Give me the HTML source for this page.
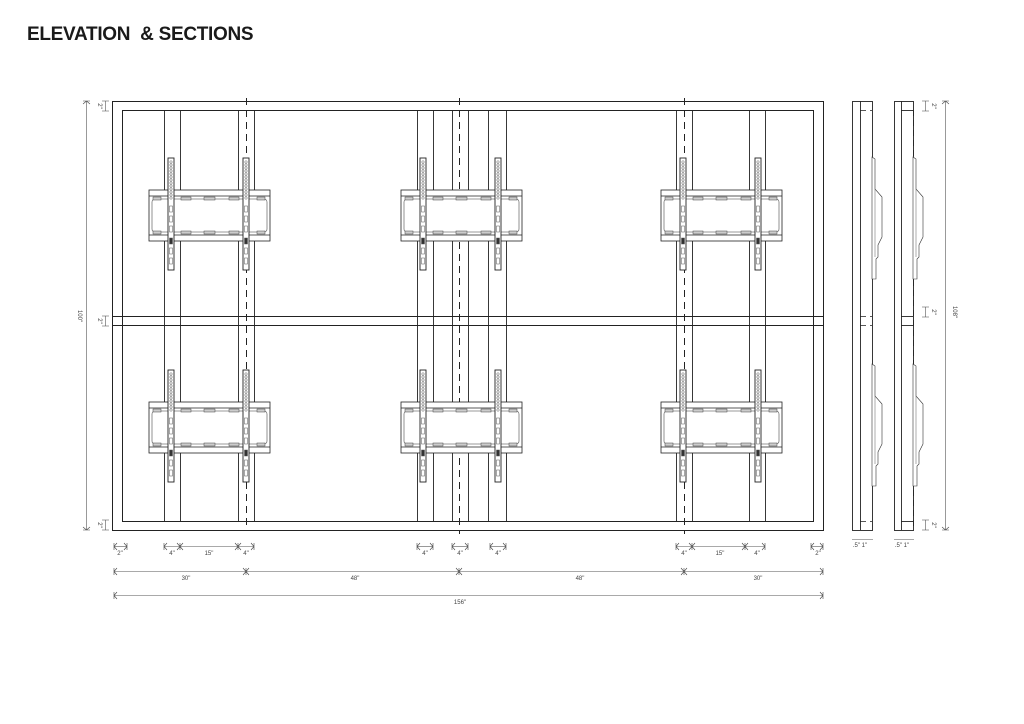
<!DOCTYPE html>
<html><head><meta charset="utf-8"><style>
html,body{margin:0;padding:0;background:#fff;}
body{width:1024px;height:724px;overflow:hidden;position:relative;font-family:"Liberation Sans",sans-serif;}
h1{position:absolute;left:27px;top:24px;margin:0;font-size:19px;font-weight:bold;letter-spacing:-0.3px;color:#1a1a1a;}
svg{position:absolute;left:0;top:0;}
text{font-family:"Liberation Sans",sans-serif;font-size:6px;fill:#444;}
</style></head><body>
<h1>ELEVATION&nbsp; &amp; SECTIONS</h1>
<svg width="1024" height="724" viewBox="0 0 1024 724">
<defs>
<g id="br" fill="#fff" stroke="#222" stroke-width="0.8">
  <rect x="0" y="0" width="121" height="51"/>
  <line x1="0" y1="6" x2="121" y2="6"/>
  <line x1="0" y1="45" x2="121" y2="45"/>
  <rect x="3" y="9" width="115" height="33" rx="3" stroke="#777"/>
  <g fill="#ccc" stroke="#444" stroke-width="0.5">
    <rect x="4" y="7" width="8" height="3"/><rect x="32" y="7" width="10" height="3"/><rect x="55" y="7" width="11" height="3"/><rect x="80" y="7" width="10" height="3"/><rect x="108" y="7" width="8" height="3"/>
    <rect x="4" y="41" width="8" height="3"/><rect x="32" y="41" width="10" height="3"/><rect x="55" y="41" width="11" height="3"/><rect x="80" y="41" width="10" height="3"/><rect x="108" y="41" width="8" height="3"/>
  </g>
  <g id="rail">
    <rect x="19" y="-32" width="6" height="112" stroke-width="0.9"/>
    <g fill="none" stroke="#555" stroke-width="0.5">
      <circle cx="22" cy="-28" r="1.2"/><circle cx="22" cy="-25" r="1.2"/><circle cx="22" cy="-22" r="1.2"/><circle cx="22" cy="-19" r="1.2"/><circle cx="22" cy="-16" r="1.2"/><circle cx="22" cy="-13" r="1.2"/><circle cx="22" cy="-10" r="1.2"/><circle cx="22" cy="-7" r="1.2"/><circle cx="22" cy="-4" r="1.2"/><circle cx="22" cy="-1" r="1.2"/><circle cx="22" cy="2" r="1.2"/><circle cx="22" cy="5" r="1.2"/><circle cx="22" cy="8" r="1.2"/>
      <rect x="20.5" y="16" width="3" height="6"/><rect x="20.5" y="26" width="3" height="6"/><rect x="20.5" y="36" width="3" height="6"/>
      <rect x="20.5" y="48" width="3" height="6" fill="#333"/><rect x="20.5" y="58" width="3" height="6"/><rect x="20.5" y="68" width="3" height="6"/>
    </g>
  </g>
  <use href="#rail" x="75"/>
</g>
<g id="sec" fill="none" stroke="#333" stroke-width="0.6">
  <path d="M0,0 L3,2 L3,32 L10,40 L10,80 L6,88 L6,100 L4,102 L4,122 L0,122 Z" fill="#fff"/>
  <path d="M3,32 L3,100" stroke="#777"/>
</g>
</defs>

<g fill="none" stroke="#222" stroke-width="1">
  <rect x="112.5" y="101.5" width="711" height="429"/>
  <rect x="122.5" y="110.5" width="691" height="411"/>
  <line x1="112" y1="316.5" x2="823" y2="316.5"/>
  <line x1="112" y1="325.5" x2="823" y2="325.5"/>
  <g stroke-width="0.9">
    <line x1="164.5" y1="110" x2="164.5" y2="521"/><line x1="180.5" y1="110" x2="180.5" y2="521"/>
    <line x1="238.5" y1="110" x2="238.5" y2="521"/><line x1="254.5" y1="110" x2="254.5" y2="521"/>
    <line x1="417.5" y1="110" x2="417.5" y2="521"/><line x1="433.5" y1="110" x2="433.5" y2="521"/>
    <line x1="452.5" y1="110" x2="452.5" y2="521"/><line x1="468.5" y1="110" x2="468.5" y2="521"/>
    <line x1="488.5" y1="110" x2="488.5" y2="521"/><line x1="506.5" y1="110" x2="506.5" y2="521"/>
    <line x1="676.5" y1="110" x2="676.5" y2="521"/><line x1="692.5" y1="110" x2="692.5" y2="521"/>
    <line x1="749.5" y1="110" x2="749.5" y2="521"/><line x1="765.5" y1="110" x2="765.5" y2="521"/>
  </g>
  <g stroke-dasharray="7,5" stroke-width="1">
    <line x1="246.5" y1="98" x2="246.5" y2="530"/>
    <line x1="459.5" y1="98" x2="459.5" y2="534"/>
    <line x1="684.5" y1="98" x2="684.5" y2="534"/>
  </g>
</g>

<use href="#br" x="149" y="190"/>
<use href="#br" x="401" y="190"/>
<use href="#br" x="661" y="190"/>
<use href="#br" x="149" y="402"/>
<use href="#br" x="401" y="402"/>
<use href="#br" x="661" y="402"/>

<g fill="none" stroke="#222" stroke-width="0.9">
  <rect x="852.5" y="101.5" width="20" height="429"/>
  <line x1="860.5" y1="101" x2="860.5" y2="530"/>
  <rect x="894.5" y="101.5" width="19" height="429"/>
  <line x1="901.5" y1="101" x2="901.5" y2="530"/>
  <g stroke-dasharray="6,4" stroke-width="0.8">
    <line x1="860" y1="110.5" x2="872" y2="110.5"/><line x1="860" y1="521.5" x2="872" y2="521.5"/>
    <line x1="860" y1="316.5" x2="872" y2="316.5"/><line x1="860" y1="325.5" x2="872" y2="325.5"/>
    <line x1="913.5" y1="110" x2="913.5" y2="530"/>
  </g>
  <line x1="901" y1="110.5" x2="913" y2="110.5"/><line x1="901" y1="521.5" x2="913" y2="521.5"/>
  <line x1="901" y1="316.5" x2="913" y2="316.5"/><line x1="901" y1="325.5" x2="913" y2="325.5"/>
</g>
<use href="#sec" x="872" y="157"/>
<use href="#sec" x="872" y="364"/>
<use href="#sec" x="913" y="157"/>
<use href="#sec" x="913" y="364"/>

<g stroke="#555" stroke-width="0.6" fill="none">
  <line x1="114" y1="546.5" x2="127" y2="546.5"/>
  <line x1="164" y1="546.5" x2="254" y2="546.5"/>
  <line x1="417" y1="546.5" x2="433" y2="546.5"/>
  <line x1="452" y1="546.5" x2="468" y2="546.5"/>
  <line x1="490" y1="546.5" x2="506" y2="546.5"/>
  <line x1="676" y1="546.5" x2="765" y2="546.5"/>
  <line x1="811" y1="546.5" x2="823" y2="546.5"/>
  <line x1="114" y1="571.5" x2="823" y2="571.5"/>
  <line x1="114" y1="595.5" x2="823" y2="595.5"/>
  <line x1="86.5" y1="101" x2="86.5" y2="530"/>
  <line x1="105.5" y1="101" x2="105.5" y2="111"/>
  <line x1="105.5" y1="316" x2="105.5" y2="326"/>
  <line x1="105.5" y1="520" x2="105.5" y2="530"/>
  <line x1="945.5" y1="101" x2="945.5" y2="530"/>
  <line x1="925.5" y1="101" x2="925.5" y2="111"/>
  <line x1="925.5" y1="307" x2="925.5" y2="317"/>
  <line x1="925.5" y1="520" x2="925.5" y2="530"/>
  <line x1="852" y1="539.5" x2="873" y2="539.5"/>
  <line x1="894" y1="539.5" x2="914" y2="539.5"/>
</g>
<g stroke="#444" stroke-width="0.6" fill="none">
  <path d="M114,543v7M117,543l-3,3.5l3,3.5M127,543v7M124,543l3,3.5l-3,3.5"/>
  <path d="M164,543v7M167,543l-3,3.5l3,3.5M180,543v7M177,543l3,3.5l-3,3.5M183,543l-3,3.5l3,3.5M238,543v7M235,543l3,3.5l-3,3.5M241,543l-3,3.5l3,3.5M254,543v7M251,543l3,3.5l-3,3.5"/>
  <path d="M417,543v7M420,543l-3,3.5l3,3.5M433,543v7M430,543l3,3.5l-3,3.5"/>
  <path d="M452,543v7M455,543l-3,3.5l3,3.5M468,543v7M465,543l3,3.5l-3,3.5"/>
  <path d="M490,543v7M493,543l-3,3.5l3,3.5M506,543v7M503,543l3,3.5l-3,3.5"/>
  <path d="M676,543v7M679,543l-3,3.5l3,3.5M692,543v7M689,543l3,3.5l-3,3.5M695,543l-3,3.5l3,3.5M745,543v7M742,543l3,3.5l-3,3.5M748,543l-3,3.5l3,3.5M765,543v7M762,543l3,3.5l-3,3.5"/>
  <path d="M811,543v7M814,543l-3,3.5l3,3.5M823,543v7M820,543l3,3.5l-3,3.5"/>
  <path d="M114,568v7M117,568l-3,3.5l3,3.5M246,568v7M243,568l3,3.5l-3,3.5M249,568l-3,3.5l3,3.5M459,568v7M456,568l3,3.5l-3,3.5M462,568l-3,3.5l3,3.5M684,568v7M681,568l3,3.5l-3,3.5M687,568l-3,3.5l3,3.5M823,568v7M820,568l3,3.5l-3,3.5"/>
  <path d="M114,592v7M117,592l-3,3.5l3,3.5M823,592v7M820,592l3,3.5l-3,3.5"/>
  <path d="M83,101h7M83,104l3.5,-3l3.5,3M83,530h7M83,527l3.5,3l3.5,-3"/>
  <path d="M942,101h7M942,104l3.5,-3l3.5,3M942,530h7M942,527l3.5,3l3.5,-3"/>
  <path d="M102,101h7M102,111h7M102,316h7M102,326h7M102,520h7M102,530h7"/>
  <path d="M922,101h7M922,111h7M922,307h7M922,317h7M922,520h7M922,530h7"/>
</g>
<g text-anchor="middle">
  <text x="120" y="555">2"</text>
  <text x="172" y="555">4"</text><text x="209" y="555">15"</text><text x="246" y="555">4"</text>
  <text x="425" y="555">4"</text><text x="460" y="555">4"</text><text x="498" y="555">4"</text>
  <text x="684" y="555">4"</text><text x="720" y="555">15"</text><text x="757" y="555">4"</text>
  <text x="818" y="555">2"</text>
  <text x="186" y="580">30"</text><text x="355" y="580">48"</text><text x="580" y="580">48"</text><text x="758" y="580">30"</text>
  <text x="460" y="604">156"</text>
  <text x="860" y="547">.5" 1"</text><text x="902" y="547">.5" 1"</text>
  <text transform="translate(78,316) rotate(90)">100"</text>
  <text transform="translate(98,106) rotate(90)">2"</text>
  <text transform="translate(98,321) rotate(90)">2"</text>
  <text transform="translate(98,525) rotate(90)">2"</text>
  <text transform="translate(932,106) rotate(90)">2"</text>
  <text transform="translate(932,312) rotate(90)">2"</text>
  <text transform="translate(932,525) rotate(90)">2"</text>
  <text transform="translate(953,312) rotate(90)">108"</text>
</g>
</svg>
</body></html>
